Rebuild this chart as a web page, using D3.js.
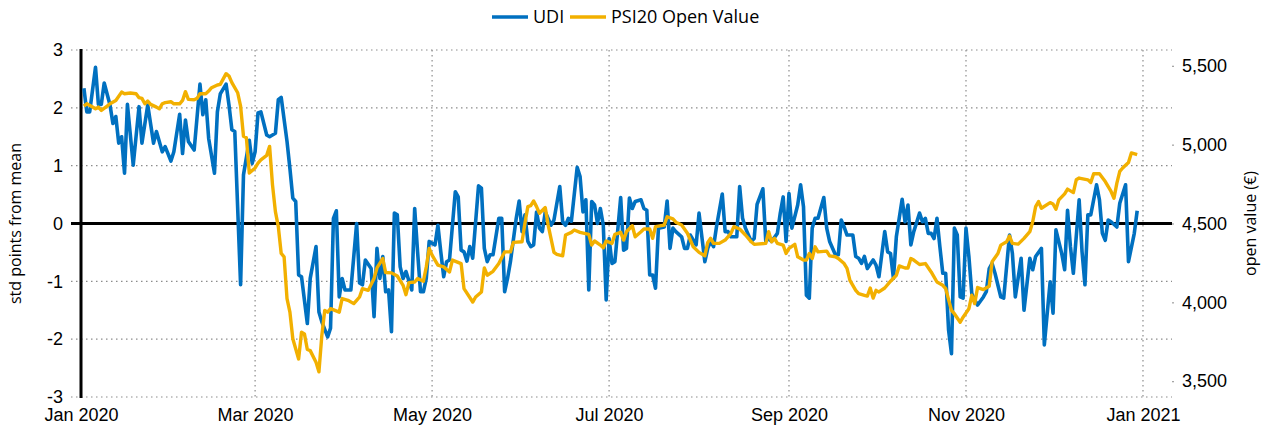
<!DOCTYPE html>
<html>
<head>
<meta charset="utf-8">
<script src="https://cdn.jsdelivr.net/npm/d3@7"></script>
<style>
  html, body { margin: 0; padding: 0; background: #fff; }
  svg { display: block; font-family: "Open Sans", sans-serif; }
</style>
</head>
<body>
<div id="chart"></div>
<script>
// [day of year 2020 (0 = Jan 1), std points from mean]
const udiPoints = [
  [1,2.34],[2,1.93],[3,1.93],[5,2.70],[6,2.06],[7,2.06],[8,2.43],[10,2.05],[11,1.73],[12,1.85],
  [13,1.39],[14,1.50],[15,0.87],[16,2.06],[18,1.01],[20,2.02],[21,1.39],[23,2.05],[25,1.39],[26,1.59],
  [28,1.24],[29,1.33],[31,1.08],[32,1.24],[34,1.89],[35,1.21],[36,1.79],[37,1.42],[39,1.27],[41,2.41],
  [42,1.88],[43,2.14],[44,1.47],[46,0.87],[47,1.93],[48,2.24],[50,2.41],[51,2.05],[52,1.62],[53,1.59],
  [55,-1.06],[56,0.84],[58,1.44],[59,1.04],[60,1.24],[61,1.91],[62,1.93],[64,1.53],[65,1.50],[67,1.56],
  [68,2.14],[69,2.18],[71,1.42],[72,0.95],[73,0.44],[74,0.38],[75,-0.89],[76,-0.92],[78,-1.73],[79,-0.95],
  [81,-0.40],[82,-1.53],[83,-1.70],[85,-1.96],[86,-1.81],[87,0.09],[88,0.22],[89,-1.27],[90,-0.95],[91,-1.15],
  [92,-1.15],[93,-1.15],[95,0.00],[96,-1.03],[97,-1.06],[98,-0.63],[100,-0.78],[101,-1.61],[102,-0.43],[103,-0.95],
  [104,-0.57],[105,-1.18],[106,-1.15],[107,-1.87],[108,0.18],[109,0.15],[110,-0.75],[111,-0.95],[112,-0.83],[114,-1.15],
  [115,0.26],[116,-0.49],[117,-1.18],[118,-1.18],[119,-0.95],[120,-0.31],[122,-0.37],[123,-0.03],[124,-0.49],[125,-0.92],
  [126,-0.66],[127,-0.63],[129,0.55],[130,0.46],[131,-0.46],[132,-0.49],[133,-0.65],[134,-0.40],[135,-0.60],[137,0.65],
  [138,0.61],[139,-0.43],[140,-0.66],[141,-0.54],[142,-0.54],[144,0.09],[145,0.09],[146,-1.18],[147,-0.95],[148,-0.66],
  [150,0.09],[151,0.39],[152,-0.14],[153,0.15],[154,-0.31],[155,-0.40],[156,-0.37],[157,0.20],[158,-0.08],[159,-0.14],
  [160,0.20],[162,-0.03],[163,0.06],[165,0.64],[166,0.03],[167,-0.03],[168,0.09],[169,0.04],[171,0.97],[172,0.81],
  [173,0.20],[174,0.41],[175,-1.15],[176,0.38],[177,0.32],[178,0.00],[179,0.26],[180,-0.03],[181,-1.32],[182,-0.26],
  [183,-0.69],[184,-0.66],[186,0.45],[187,-0.46],[188,-0.43],[189,0.44],[190,0.26],[191,0.38],[193,0.41],[194,0.26],
  [195,0.23],[196,-0.89],[197,-0.89],[198,-1.12],[199,-0.08],[201,-0.06],[202,0.39],[203,-0.43],[204,-0.08],[205,-0.14],
  [207,-0.23],[208,-0.43],[209,-0.43],[210,-0.20],[212,-0.37],[213,0.18],[215,-0.66],[216,-0.43],[217,-0.31],[218,-0.40],
  [219,-0.06],[221,0.51],[222,-0.14],[223,-0.14],[224,-0.23],[226,-0.23],[227,0.64],[228,0.09],[229,-0.08],[231,-0.31],
  [232,-0.26],[233,0.33],[235,0.60],[236,-0.31],[237,-0.26],[238,-0.31],[240,-0.17],[241,0.18],[242,0.46],[243,-0.31],
  [244,0.52],[245,-0.08],[247,0.32],[248,0.67],[249,0.29],[250,-1.24],[251,-1.29],[252,-0.08],[253,0.09],[254,0.09],
  [256,0.45],[257,-0.08],[258,-0.31],[260,-0.54],[261,-0.54],[262,0.06],[263,-0.06],[264,-0.20],[266,-0.20],[267,-0.57],
  [268,-0.60],[269,-0.69],[270,-0.57],[271,-0.78],[273,-0.63],[274,-0.72],[275,-0.92],[277,-0.14],[278,-0.49],[279,-0.52],
  [280,-0.95],[281,-0.23],[283,0.42],[284,0.03],[285,0.32],[286,-0.37],[287,-0.14],[289,0.18],[290,0.03],[291,0.09],
  [292,-0.17],[293,-0.17],[294,-0.26],[295,0.09],[296,-0.40],[297,-0.86],[298,-0.86],[299,-1.84],[300,-2.25],[301,-0.08],
  [302,-0.20],[303,-1.27],[304,-1.29],[305,-0.08],[306,-0.57],[307,-1.21],[308,-1.32],[309,-1.41],[311,-1.27],[312,-1.18],
  [313,-0.78],[314,-0.69],[315,-0.86],[317,-1.27],[318,-1.29],[320,-0.20],[321,-0.52],[322,-1.27],[324,-0.60],[325,-1.50],
  [327,-0.60],[328,-0.80],[329,-0.57],[331,-0.43],[332,-2.10],[334,-1.01],[335,-1.55],[336,-0.11],[338,-0.52],[339,-0.80],
  [340,0.23],[341,-0.40],[342,-0.86],[344,0.41],[345,-0.49],[346,-1.06],[347,0.15],[348,0.15],[350,0.67],[351,0.41],
  [352,-0.17],[353,-0.29],[354,0.06],[355,0.03],[357,-0.06],[358,0.35],[360,0.67],[361,-0.66],[363,-0.17],[364,0.22]
];

// [day of year 2020, PSI20 open value in euro]
const psiPoints = [
  [1,5244],[2,5259],[4,5238],[5,5227],[6,5238],[7,5217],[9,5244],[10,5259],[12,5280],[14,5333],
  [15,5323],[17,5327],[19,5323],[20,5298],[21,5293],[22,5259],[23,5276],[24,5255],[26,5238],[27,5227],
  [28,5259],[29,5266],[31,5272],[32,5259],[34,5259],[35,5280],[36,5336],[37,5287],[39,5285],[40,5293],
  [41,5323],[43,5323],[44,5340],[45,5361],[47,5378],[48,5382],[50,5450],[51,5435],[52,5393],[54,5329],
  [55,5244],[56,5053],[57,5043],[58,4820],[60,4852],[61,4883],[62,4904],[64,4932],[65,4989],[66,4745],
  [67,4575],[68,4480],[69,4310],[70,4289],[71,4024],[72,3938],[73,3769],[75,3641],[76,3811],[77,3800],
  [78,3701],[79,3694],[81,3620],[82,3560],[83,3790],[84,3949],[85,3938],[86,3960],[89,3938],[90,4024],
  [92,4013],[94,3992],[95,4013],[96,4034],[97,4087],[99,4076],[101,4151],[102,4218],[104,4278],[105,4189],
  [107,4187],[109,4167],[111,4108],[112,4049],[113,4125],[115,4129],[116,4151],[118,4134],[119,4225],[120,4342],
  [121,4299],[123,4236],[125,4225],[127,4193],[128,4268],[131,4246],[132,4087],[135,4002],[136,4034],[138,4066],
  [139,4218],[140,4172],[142,4197],[144,4246],[146,4320],[148,4320],[149,4380],[152,4384],[153,4501],[154,4607],
  [155,4613],[156,4643],[157,4607],[158,4565],[160,4601],[161,4490],[163,4317],[164,4304],[166,4295],[167,4427],
  [169,4444],[170,4459],[172,4444],[175,4431],[176,4363],[177,4389],[179,4363],[180,4346],[181,4389],[183,4374],
  [184,4431],[186,4444],[187,4395],[188,4448],[190,4486],[191,4416],[193,4448],[194,4465],[196,4465],[197,4406],
  [198,4480],[201,4490],[202,4543],[204,4529],[205,4508],[207,4490],[209,4438],[211,4352],[213,4317],[215,4295],
  [216,4380],[217,4406],[218,4374],[220,4374],[222,4395],[224,4438],[225,4480],[227,4465],[229,4427],[231,4384],
  [232,4368],[236,4374],[237,4448],[238,4384],[239,4406],[240,4374],[242,4363],[243,4310],[244,4342],[246,4368],
  [247,4289],[249,4268],[250,4268],[251,4310],[252,4278],[253,4352],[254,4320],[257,4325],[258,4295],[260,4289],
  [261,4278],[263,4246],[264,4215],[265,4140],[267,4076],[268,4055],[270,4045],[271,4040],[272,4091],[273,4027],
  [274,4076],[275,4066],[277,4091],[279,4134],[281,4172],[282,4231],[284,4218],[285,4218],[286,4278],[287,4268],
  [289,4240],[291,4246],[293,4193],[295,4129],[297,4108],[298,4087],[300,3949],[301,3928],[303,3874],[304,3906],
  [306,3960],[307,4045],[308,3992],[309,4094],[311,4081],[313,4102],[314,4257],[316,4310],[317,4363],[319,4384],
  [320,4420],[321,4374],[323,4369],[325,4406],[327,4448],[328,4511],[329,4607],[330,4639],[331,4597],[334,4632],
  [335,4624],[336,4590],[337,4650],[339,4688],[340,4718],[342,4696],[343,4777],[344,4788],[347,4777],[348,4760],
  [349,4815],[351,4815],[353,4766],[355,4703],[356,4660],[357,4756],[358,4830],[359,4852],[361,4887],[362,4947],
  [364,4936]
];

const leftTicks = [-3, -2, -1, 0, 1, 2, 3];
const rightTicks = [3500, 4000, 4500, 5000, 5500];
const monthTicks = ["2020-01-01", "2020-03-01", "2020-05-01", "2020-07-01", "2020-09-01", "2020-11-01", "2021-01-01"];
const seriesNames = ["UDI", "PSI20 Open Value"];

const W = 1265, H = 426;
const margin = { top: 50, right: 93, bottom: 29, left: 81 };
const BLUE = "#0070c0", GOLD = "#f2b000";

const start = new Date(2020, 0, 1);
const toDate = (d) => d3.timeDay.offset(start, d);
const parse = d3.timeParse("%Y-%m-%d");

const svg = d3.select("#chart").append("svg")
  .attr("width", W).attr("height", H);

const x = d3.scaleTime()
  .domain([start, new Date(2021, 0, 11)])
  .range([margin.left, W - margin.right]);
const y = d3.scaleLinear().domain([-3, 3]).range([H - margin.bottom, margin.top]);
const y2 = d3.scaleLinear().domain([3400, 5600]).range([H - margin.bottom, margin.top]);

// dotted horizontal gridlines, running a little left of the axis as ticks
svg.append("g")
  .selectAll("line")
  .data(leftTicks.filter((t) => t !== 0))
  .join("line")
  .attr("x1", margin.left - 10).attr("x2", W - margin.right)
  .attr("y1", (d) => y(d)).attr("y2", (d) => y(d))
  .attr("stroke", "#8c8c8c").attr("stroke-width", 1.2)
  .attr("stroke-dasharray", "1.5,3.5");

// dotted vertical gridlines
svg.append("g")
  .selectAll("line")
  .data(monthTicks.slice(1).map(parse))
  .join("line")
  .attr("x1", (d) => x(d)).attr("x2", (d) => x(d))
  .attr("y1", margin.top).attr("y2", H - margin.bottom)
  .attr("stroke", "#8c8c8c").attr("stroke-width", 1.2)
  .attr("stroke-dasharray", "1.5,3.5");

// left axis
const yAxis = svg.append("g")
  .attr("transform", `translate(${margin.left},0)`)
  .call(d3.axisLeft(y).tickValues(leftTicks).tickFormat((d) => String(d)).tickSize(0).tickPadding(18));
yAxis.select(".domain").remove();
yAxis.selectAll("text").style("font-size", "18px").attr("fill", "#000");

// right axis
const y2Axis = svg.append("g")
  .attr("transform", `translate(${W - margin.right},0)`)
  .call(d3.axisRight(y2).tickValues(rightTicks).tickFormat(d3.format(",")).tickSize(2).tickPadding(8));
y2Axis.select(".domain").remove();
y2Axis.selectAll("line").attr("stroke", "#8c8c8c");
y2Axis.selectAll("text").style("font-size", "18px").attr("fill", "#000");

// bottom axis labels
const xAxis = svg.append("g")
  .attr("transform", `translate(0,${H - margin.bottom})`)
  .call(d3.axisBottom(x).tickValues(monthTicks.map(parse)).tickFormat(d3.timeFormat("%b %Y")).tickSize(0).tickPadding(11));
xAxis.select(".domain").remove();
xAxis.selectAll("text").style("font-size", "18px").attr("fill", "#000");

// axis titles
svg.append("text")
  .attr("transform", `translate(21,${y(0)}) rotate(-90)`)
  .attr("text-anchor", "middle")
  .style("font-size", "16px")
  .text("std points from mean");
svg.append("text")
  .attr("transform", `translate(1256,${y(0)}) rotate(-90)`)
  .attr("text-anchor", "middle")
  .style("font-size", "16px")
  .text("open value (€)");

// zero line and left axis line
svg.append("line")
  .attr("x1", margin.left - 10).attr("x2", W - margin.right)
  .attr("y1", y(0)).attr("y2", y(0))
  .attr("stroke", "#000").attr("stroke-width", 3);
svg.append("line")
  .attr("x1", margin.left).attr("x2", margin.left)
  .attr("y1", margin.top - 1).attr("y2", H - margin.bottom + 1)
  .attr("stroke", "#000").attr("stroke-width", 3);

// series
const udiLine = d3.line().x((d) => x(toDate(d[0]))).y((d) => y(d[1]));
const psiLine = d3.line().x((d) => x(toDate(d[0]))).y((d) => y2(d[1]));

svg.append("path")
  .datum(udiPoints)
  .attr("d", udiLine)
  .attr("fill", "none")
  .attr("stroke", BLUE)
  .attr("stroke-width", 3.6)
  .attr("stroke-linejoin", "round");

svg.append("path")
  .datum(psiPoints)
  .attr("d", psiLine)
  .attr("fill", "none")
  .attr("stroke", GOLD)
  .attr("stroke-width", 3.4)
  .attr("stroke-linejoin", "round");

// legend
const legend = svg.append("g").attr("transform", "translate(492,17)");
const legendX = [0, 78];
seriesNames.forEach((name, i) => {
  const g = legend.append("g").attr("transform", `translate(${legendX[i]},0)`);
  g.append("line").attr("x1", 0).attr("x2", 36).attr("y1", 0).attr("y2", 0)
    .attr("stroke", i === 0 ? BLUE : GOLD).attr("stroke-width", 3.5);
  g.append("text").attr("x", 41).attr("y", 6)
    .style("font-size", "18px").text(name);
});
</script>
</body>
</html>
